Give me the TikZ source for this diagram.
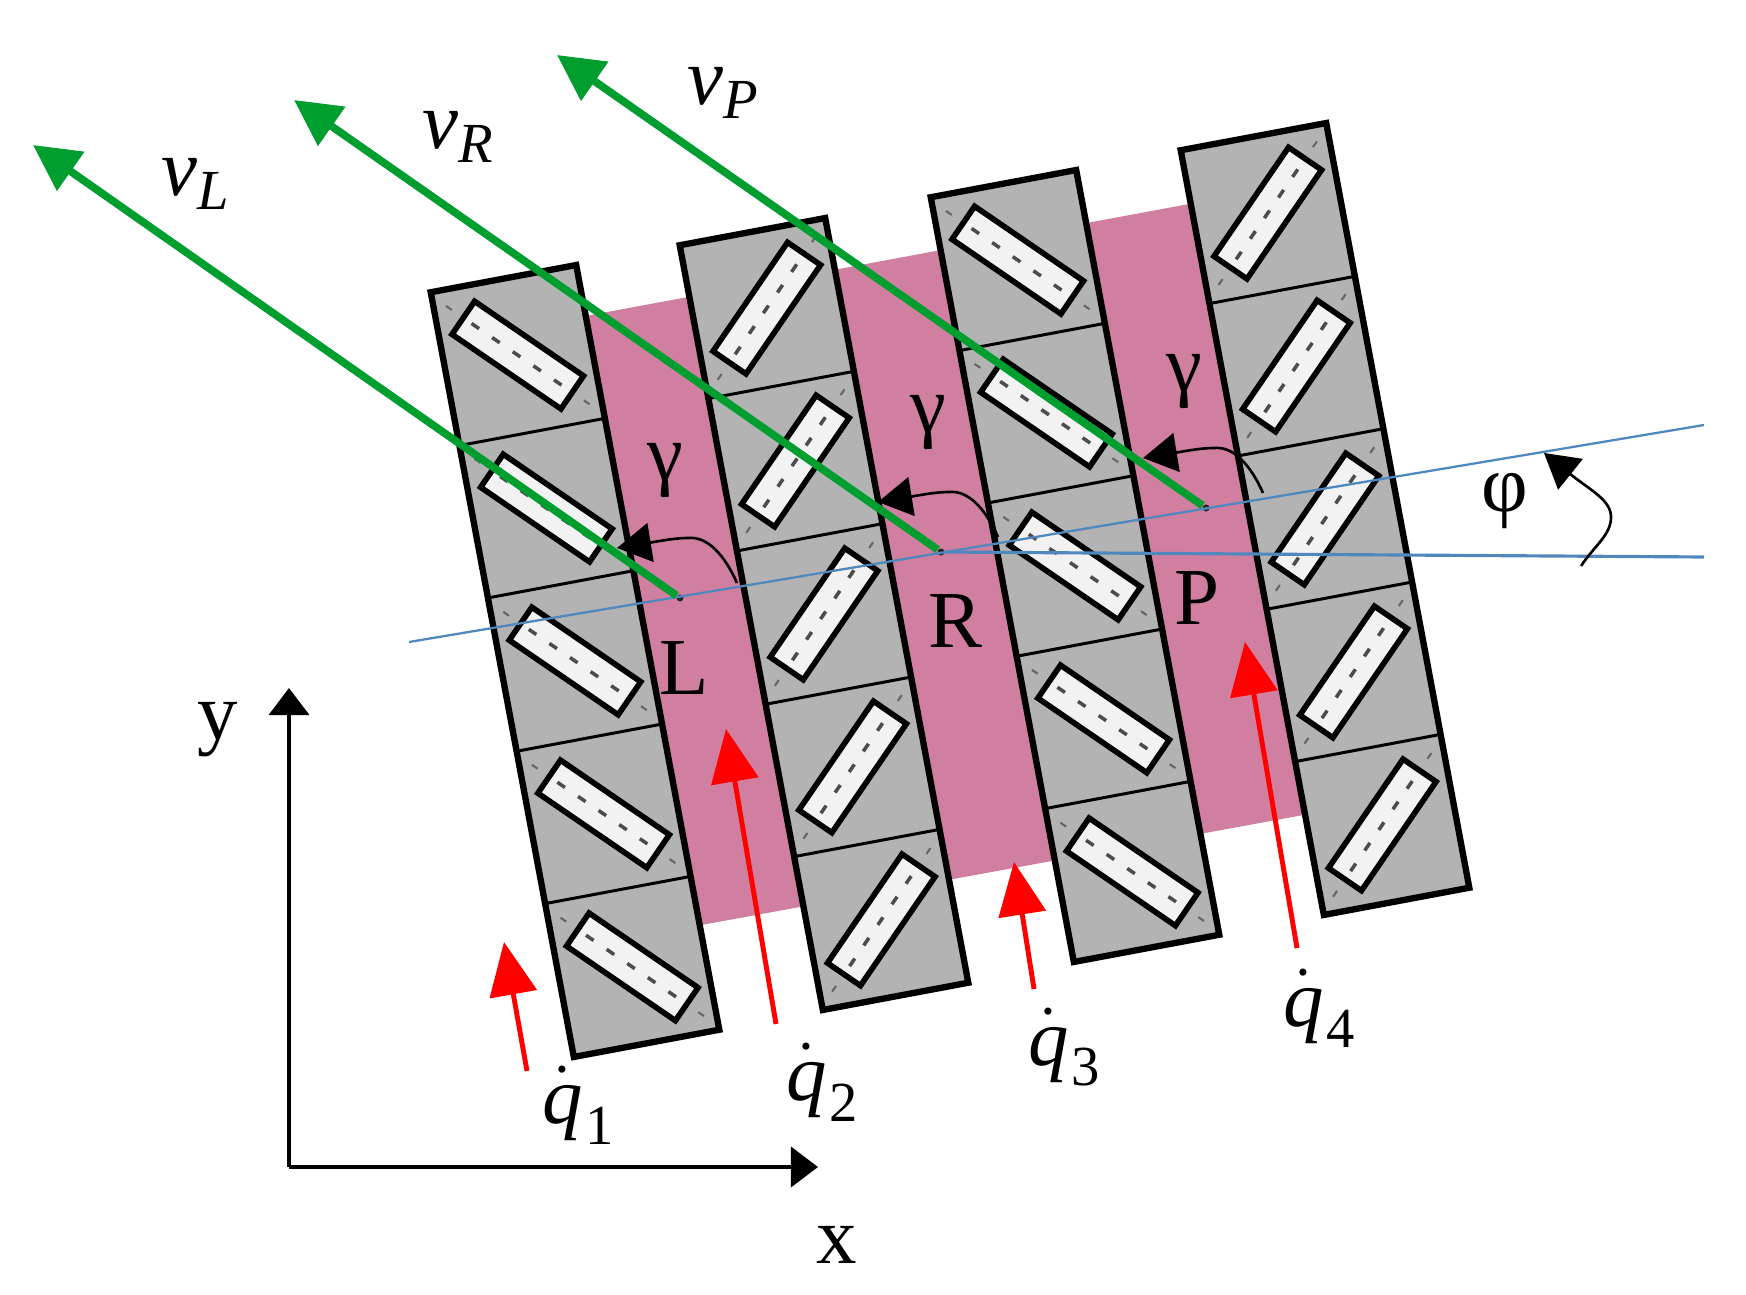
\documentclass[tikz,border=0pt]{standalone}
\usepackage{amsmath}
\usepackage{fontspec}
\setmainfont{Liberation Serif}
\usetikzlibrary{arrows.meta}
\definecolor{trackgray}{HTML}{B3B3B3}
\definecolor{rollerwhite}{HTML}{F2F2F2}
\definecolor{bodypink}{HTML}{D07FA1}
\definecolor{velgreen}{HTML}{009E2F}
\definecolor{axisblue}{HTML}{5088BE}
\tikzset{%
    trackbox/.style={draw=black,fill=trackgray,line width=1.8pt},
    divider/.style={draw=black,line width=.85pt},
    rollerbox/.style={draw=black,fill=rollerwhite,line width=1.6pt},
    rolleraxis/.style={draw=black!70,line width=1pt,dash pattern=on 2.6pt off 4.5pt},
    rollermark/.style={draw=black!60,line width=.6pt},
    ptdot/.style={inner sep=0pt,minimum size=2pt,circle,fill=black!85},
    velarrow/.style={draw=velgreen,line width=2.2pt,-{Triangle[length=.46cm,width=.46cm]},velgreen},
    flowarrow/.style={draw=red,line width=1.4pt,-{Triangle[length=.53cm,width=.47cm]},red},
    axisarrow/.style={draw=black,line width=1pt,-{Triangle[length=.27cm,width=.4cm]}},
    anglearrow/.style={draw=black,line width=.75pt,-{Triangle[length=.34cm,width=.39cm]}},
    lineblue/.style={draw=axisblue,line width=.65pt},
    lbl/.style={inner sep=0pt,font=\fontsize{23}{27}\selectfont},
    mathlbl/.style={inner sep=0pt,font=\fontsize{23}{27}\selectfont}
}
\begin{document}
\begin{tikzpicture}[x=.01cm,y=-.01cm]
        \useasboundingbox (0,0) rectangle (1746,1295);

        % platform
        \fill[bodypink] (575,318) -- (1200,202) -- (1320,812) -- (685,928) -- cycle;

        % four tracks, five rollers each
        \foreach \tx/\ty/\ang in {575/661/-45, 824/614/45, 1075/566/-45, 1325/519/45}{
            \begin{scope}[shift={(\tx,\ty)},rotate=10.6]
                \draw[trackbox] (-74,-389) rectangle (74,389);
                \foreach \d in {-233,-78,78,233}{
                    \draw[divider] (-74,\d) -- (74,\d);
                }
                \foreach \k in {-2,...,2}{
                    \begin{scope}[shift={(0,\k*155.6)},rotate=\ang]
                        \draw[rollerbox] (-66,-20) rectangle (66,20);
                        \draw[rolleraxis] (-56,0) -- (56,0);
                        \draw[rollermark] (-87,0) -- (-80,0);
                        \draw[rollermark] (80,0) -- (87,0);
                    \end{scope}
                }
            \end{scope}
        }

        % reference points
        \node[ptdot] (ptL) at (680,598){};
        \node[ptdot] (ptR) at (941,552){};
        \node[ptdot] (ptP) at (1206,508){};

        \coordinate (slantA) at (409,642);
        \coordinate (slantB) at (1704,425);
        \coordinate (horizB) at (1704,557);
        \draw[lineblue] (slantA) -- (slantB);
        \draw[lineblue,line width=.9pt] (ptR) -- (horizB);

        % gamma angles
        \foreach \pt in {ptL,ptR,ptP}{
            \draw[anglearrow,shift={(\pt)}] (57,-15) .. controls (45,-42) and (28,-62) .. (8,-60)
                .. controls (-5,-60) and (-20,-57) .. (-63,-50);
        }

        % phi angle
        \coordinate (phiA) at (1581,566);
        \coordinate (phiB) at (1544,453);
        \draw[anglearrow] (phiA) .. controls (1595,545) and (1611,535) .. (1611,517)
            .. controls (1611,500) and (1590,490) .. (phiB);

        % velocities
        \coordinate (vLtip) at (33,145);
        \coordinate (vRtip) at (294,100);
        \coordinate (vPtip) at (557,55);
        \draw[velarrow] (ptL) -- (vLtip);
        \draw[velarrow] (ptR) -- (vRtip);
        \draw[velarrow] (ptP) -- (vPtip);

        % track speeds
        \coordinate (q1a) at (527,1071);
        \coordinate (q1b) at (504,942);
        \coordinate (q2a) at (776,1024);
        \coordinate (q2b) at (726,729);
        \coordinate (q3a) at (1034,989);
        \coordinate (q3b) at (1014,862);
        \coordinate (q4a) at (1297,948);
        \coordinate (q4b) at (1245,642);
        \draw[flowarrow] (q1a) -- (q1b);
        \draw[flowarrow] (q2a) -- (q2b);
        \draw[flowarrow] (q3a) -- (q3b);
        \draw[flowarrow] (q4a) -- (q4b);

        % frame
        \coordinate (orig) at (289,1167);
        \coordinate (xtip) at (818,1167);
        \coordinate (ytip) at (289,688);
        \draw[axisarrow] (orig) -- (xtip);
        \draw[axisarrow] (orig) -- (ytip);

        % labels
        \node[mathlbl] (vLlbl) at (196,184){$\textit{v}_{\textit{L}}$};
        \node[mathlbl] (vRlbl) at (459,137){$\textit{v}_{\textit{R}}$};
        \node[mathlbl] (vPlbl) at (724,93){$\textit{v}_{\textit{P}}$};

        \node[lbl] (Llbl) at (684,668){L};
        \node[lbl] (Rlbl) at (955,621){R};
        \node[lbl] (Plbl) at (1197,598){P};

        \node[lbl] (gL) at (665,471){γ};
        \node[lbl] (gR) at (928,423){γ};
        \node[lbl] (gP) at (1184,382){γ};
        \node[lbl] (phiLbl) at (1505,501){φ};

        \node[mathlbl] (q1lbl) at (579,1105){$\dot{\textit{q}}_{\mkern1mu\textrm{1}}$};
        \node[mathlbl] (q2lbl) at (823,1082){$\dot{\textit{q}}_{\mkern1mu\textrm{2}}$};
        \node[mathlbl] (q3lbl) at (1065,1047){$\dot{\textit{q}}_{\mkern1mu\textrm{3}}$};
        \node[mathlbl] (q4lbl) at (1320,1008){$\dot{\textit{q}}_{\mkern1mu\textrm{4}}$};

        \node[lbl] (xlbl) at (837,1245){x};
        \node[lbl] (ylbl) at (218,730){y};
    \end{tikzpicture}
\end{document}
